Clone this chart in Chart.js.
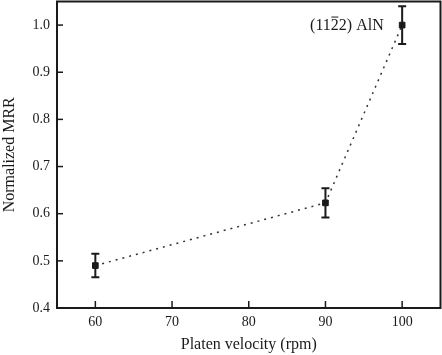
<!DOCTYPE html>
<html><head><meta charset="utf-8">
<script src="https://cdn.jsdelivr.net/npm/chart.js@4"></script>
<style>html,body{margin:0;padding:0;background:#fff}#wrap{width:442px;height:355px}</style>
</head><body><div id="wrap"><canvas id="c"></canvas></div>
<script>
const velocities = [60, 90, 100];
const mrr = [0.49, 0.623, 1.0];
const mrrErr = [0.025, 0.031, 0.04];
const xTicks = [60, 70, 80, 90, 100];
const yTicks = [0.4, 0.5, 0.6, 0.7, 0.8, 0.9, 1.0];
const label = {pre: "(11", bar: "2", post: "2) AlN", x: 97.6, y: 1.0};

const FONT = "'Liberation Serif','Times New Roman',serif";
const ink = '#1a1a1a';

const deco = {
  id: 'deco',
  afterDatasetsDraw(chart) {
    const {ctx, chartArea: a, scales: {x, y}} = chart;
    ctx.save();
    ctx.strokeStyle = ink; ctx.lineWidth = 2;
    velocities.forEach((v, i) => {
      const px = x.getPixelForValue(v);
      const t = y.getPixelForValue(mrr[i] + mrrErr[i]);
      const b = y.getPixelForValue(mrr[i] - mrrErr[i]);
      ctx.beginPath();
      ctx.moveTo(px, t); ctx.lineTo(px, b);
      ctx.moveTo(px - 4, t); ctx.lineTo(px + 4, t);
      ctx.moveTo(px - 4, b); ctx.lineTo(px + 4, b);
      ctx.stroke();
    });
    ctx.lineWidth = 2;
    ctx.strokeRect(a.left, a.top, a.right - a.left, a.bottom - a.top);
    ctx.lineWidth = 1.5;
    xTicks.forEach(v => {
      const px = x.getPixelForValue(v);
      ctx.beginPath(); ctx.moveTo(px, a.bottom); ctx.lineTo(px, a.bottom - 7); ctx.stroke();
    });
    yTicks.forEach(v => {
      const py = y.getPixelForValue(v);
      ctx.beginPath(); ctx.moveTo(a.left, py); ctx.lineTo(a.left + 6, py); ctx.stroke();
    });
    ctx.fillStyle = ink;
    ctx.font = "16px " + FONT;
    ctx.textBaseline = 'middle';
    const rx = x.getPixelForValue(label.x);
    const ry = y.getPixelForValue(label.y) + 1;
    const wPost = ctx.measureText(label.post).width;
    const wBar = ctx.measureText(label.bar).width;
    const wPre = ctx.measureText(label.pre).width;
    const start = rx - wPost - wBar - wPre;
    ctx.textAlign = 'left';
    ctx.fillText(label.pre, start, ry);
    ctx.fillText(label.bar, start + wPre, ry);
    ctx.fillText(label.post, start + wPre + wBar, ry);
    ctx.lineWidth = 1;
    ctx.beginPath();
    ctx.moveTo(start + wPre + 0.5, ry - 9);
    ctx.lineTo(start + wPre + wBar - 0.5, ry - 9);
    ctx.stroke();
    ctx.restore();
  }
};

new Chart(document.getElementById('c'), {
  type: 'line',
  data: {
    datasets: [{
      data: velocities.map((v, i) => ({x: v, y: mrr[i]})),
      borderColor: '#333',
      borderWidth: 1.5,
      borderDash: [2, 5],
      pointStyle: 'rect',
      pointRadius: 4,
      pointBackgroundColor: ink,
      pointBorderColor: ink,
      pointBorderWidth: 1,
      tension: 0
    }]
  },
  options: {
    responsive: true,
    maintainAspectRatio: false,
    animation: false,
    layout: {autoPadding: false, padding: {top: 1.5, right: 1.5, left: 0, bottom: 0}},
    plugins: {legend: {display: false}, tooltip: {enabled: false}},
    scales: {
      x: {
        type: 'linear', min: 55, max: 105,
        afterBuildTicks: s => { s.ticks = xTicks.map(v => ({value: v})); },
        afterFit: s => { s.height = 47; s.paddingLeft = 0; s.paddingRight = 0; },
        grid: {display: false, drawTicks: false},
        border: {display: false},
        ticks: {color: ink, padding: 6, font: {family: FONT, size: 14}},
        title: {display: true, text: 'Platen velocity (rpm)', color: ink, padding: {top: 0, bottom: 1}, font: {family: FONT, size: 16}}
      },
      y: {
        min: 0.4, max: 1.05,
        afterBuildTicks: s => { s.ticks = yTicks.map(v => ({value: v})); },
        afterFit: s => { s.width = 57; s.paddingTop = 0; s.paddingBottom = 0; },
        grid: {display: false, drawTicks: false},
        border: {display: false},
        ticks: {color: ink, padding: 7, font: {family: FONT, size: 14}, callback: v => v.toFixed(1)},
        title: {display: true, text: 'Normalized MRR', color: ink, padding: {top: 0, bottom: 1}, font: {family: FONT, size: 16}}
      }
    }
  },
  plugins: [deco]
});
</script></body></html>
